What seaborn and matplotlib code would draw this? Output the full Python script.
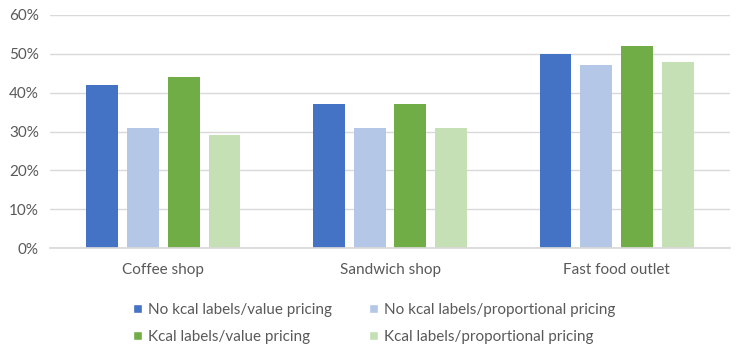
import matplotlib
matplotlib.use("Agg")
import matplotlib.pyplot as plt
import seaborn as sns
import pandas as pd
from matplotlib.ticker import PercentFormatter
from matplotlib.patches import Patch

categories = ["Coffee shop", "Sandwich shop", "Fast food outlet"]
series = ["No kcal labels/value pricing", "No kcal labels/proportional pricing",
          "Kcal labels/value pricing", "Kcal labels/proportional pricing"]
no_kcal_value = [42, 37, 50]
no_kcal_prop = [31, 31, 47]
kcal_value = [44, 37, 52]
kcal_prop = [29, 31, 48]
colors = ["#4472C4", "#B4C7E7", "#70AD47", "#C5E0B4"]

rows = []
for s, vals in zip(series, [no_kcal_value, no_kcal_prop, kcal_value, kcal_prop]):
    for c, v in zip(categories, vals):
        rows.append({"cat": c, "series": s, "val": v})
df = pd.DataFrame(rows)

sns.set_theme(style="white")
plt.rcParams["font.family"] = ["Lato", "DejaVu Sans"]
fig = plt.figure(figsize=(7.44, 3.47), dpi=100)
ax = fig.add_axes([50/744, 1 - 248/347, 680/744, 233/347])
sns.barplot(data=df, x="cat", y="val", hue="series", hue_order=series,
            palette=colors, width=0.72, gap=0.22, ax=ax, legend=False,
            saturation=1, errorbar=None, linewidth=0)
ax.set_xlim(-0.5, 2.5)
ax.set_ylim(0, 60)
ax.set_yticks(range(0, 61, 10))
ax.yaxis.set_major_formatter(PercentFormatter(decimals=0))
ax.grid(axis="y", color="#D9D9D9", linewidth=1)
ax.set_axisbelow(True)
for sp in ["top", "right", "left"]:
    ax.spines[sp].set_visible(False)
ax.spines["bottom"].set_color("#D9D9D9")
ax.tick_params(axis="both", length=0, labelsize=11, colors="#595959")
ax.tick_params(axis="x", pad=11)
ax.tick_params(axis="y", pad=8)
ax.set_xlabel("")
ax.set_ylabel("")

handles = [Patch(facecolor=c, label=s) for c, s in zip(colors, series)]
order = [0, 2, 1, 3]
fig.legend(handles=[handles[i] for i in order], loc="lower left",
           bbox_to_anchor=(119/744, -0.031), ncol=2,
           frameon=False, fontsize=11, labelcolor="#595959", handlelength=0.6,
           handleheight=0.6, handletextpad=0.4, columnspacing=2.4, labelspacing=0.85)
fig.savefig("out.png", dpi=100)
